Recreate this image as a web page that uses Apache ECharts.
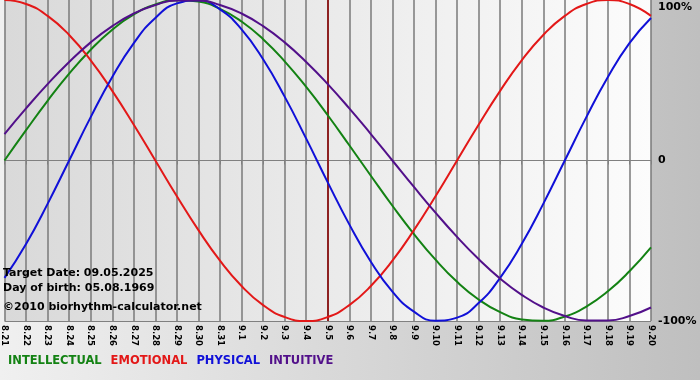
<!DOCTYPE html>
<html>
<head>
<meta charset="utf-8">
<script src="https://cdn.jsdelivr.net/npm/echarts@6/dist/echarts.min.js"></script>
<style>
html,body{margin:0;padding:0;}
#c{width:700px;height:380px;}
</style>
</head>
<body>
<div id="c"></div>
<script>
const days = ["8.21","8.22","8.23","8.24","8.25","8.26","8.27","8.28","8.29","8.30","8.31",
  "9.1","9.2","9.3","9.4","9.5","9.6","9.7","9.8","9.9","9.10","9.11","9.12","9.13","9.14",
  "9.15","9.16","9.17","9.18","9.19","9.20"];
const intellectual = [0,18.9,37.2,54.1,69.0,81.5,91.0,97.2,99.9,99.0,94.5,86.6,75.6,61.8,45.8,28.2,9.5,
  -9.5,-28.2,-45.8,-61.8,-75.6,-86.6,-94.5,-99.0,-99.9,-97.2,-91.0,-81.5,-69.0,-54.1];
const emotional = [100,97.5,90.1,78.2,62.4,43.4,22.3,0,-22.3,-43.4,-62.4,-78.2,-90.1,-97.5,-100,
  -97.5,-90.1,-78.2,-62.4,-43.4,-22.3,0,22.3,43.4,62.4,78.2,90.1,97.5,100,97.5,90.1];
const physical = [-73.1,-52.0,-27.0,0,27.0,52.0,73.1,88.8,97.9,99.8,94.2,81.7,63.1,39.8,13.6,
  -13.6,-39.8,-63.1,-81.7,-94.2,-99.8,-97.9,-88.8,-73.1,-52.0,-27.0,0,27.0,52.0,73.1,88.8];
const intuitive = [16.5,32.5,47.6,61.4,73.6,83.7,91.6,96.9,99.7,99.7,96.9,91.6,83.7,73.6,61.4,
  47.6,32.5,16.5,0,-16.5,-32.5,-47.6,-61.4,-73.6,-83.7,-91.6,-96.9,-99.7,-99.7,-96.9,-91.6];
const yTicks = {"100":"100%","0":"0","-100":"-100%"};
const targetDay = "9.5";
const infoLines = ["Target Date: 09.05.2025","Day of birth: 05.08.1969","\u00a92010 biorhythm-calculator.net"];

const chart = echarts.init(document.getElementById('c'), null, {renderer:'canvas'});
const FONT = '"DejaVu Sans", Verdana, sans-serif';
function ser(name, data, color){
  return {name:name, type:'line', data:data, smooth:0.5, symbol:'none',
    lineStyle:{color:color, width:2}, itemStyle:{color:color}, z:3};
}
const series = [
  ser('INTELLECTUAL', intellectual, '#138213'),
  ser('EMOTIONAL', emotional, '#e31818'),
  ser('PHYSICAL', physical, '#1010d8'),
  ser('INTUITIVE', intuitive, '#52108a')
];
series[0].markLine = {silent:true, symbol:'none', label:{show:false},
  lineStyle:{color:'#8e2222', width:2, type:'solid'}, data:[{xAxis: targetDay}], z:2};

chart.setOption({
  animation:false,
  backgroundColor:{type:'linear',x:0,y:0,x2:1,y2:0,colorStops:[{offset:0,color:'#f0f0f0'},{offset:1,color:'#bfbfbf'}]},
  grid:{left:2, right:49, top:0, bottom:59, show:true, borderWidth:0,
    backgroundColor:{type:'linear',x:0,y:0,x2:1,y2:0,colorStops:[{offset:0,color:'#d9d9d9'},{offset:1,color:'#fcfcfc'}]}},
  legend:{left:3, top:355, padding:0, itemWidth:0, itemHeight:0, itemGap:4, icon:'none', selectedMode:false,
    textStyle:{fontFamily:FONT, fontWeight:'bold', fontSize:11.5},
    data:[
      {name:'INTELLECTUAL', textStyle:{color:'#138213'}},
      {name:'EMOTIONAL', textStyle:{color:'#e31818'}},
      {name:'PHYSICAL', textStyle:{color:'#1010d8'}},
      {name:'INTUITIVE', textStyle:{color:'#52108a'}}
    ]},
  xAxis:{type:'category', data:days, boundaryGap:false,
    axisLine:{lineStyle:{color:'#808080', width:1}},
    axisTick:{show:true, length:4, interval:0, lineStyle:{color:'#808080'}},
    splitLine:{show:true, interval:0, lineStyle:{color:'#7a7a7a', width:1.5}},
    axisLabel:{interval:0, rotate:-90, margin:4, color:'#000', fontFamily:FONT, fontWeight:'bold', fontSize:8.5}},
  yAxis:{type:'value', position:'right', min:-100, max:100, interval:100,
    axisLine:{show:false}, axisTick:{show:false},
    splitLine:{show:true, lineStyle:{color:['#808080','#808080','rgba(0,0,0,0)'], width:1}},
    axisLabel:{margin:7, color:'#000', fontFamily:FONT, fontWeight:'bold', fontSize:11,
      verticalAlignMaxLabel:'top', padding:[2,0,0,0], formatter:function(v){return yTicks[String(v)];}}},
  graphic:[
    {type:'text', left:3, top:268, z:10, style:{text:infoLines[0], fill:'#000', font:'bold 11px '+FONT}},
    {type:'text', left:3, top:283, z:10, style:{text:infoLines[1], fill:'#000', font:'bold 11px '+FONT}},
    {type:'text', left:3, top:302, z:10, style:{text:infoLines[2], fill:'#000', font:'bold 11px '+FONT}}
  ],
  series:series
});
</script>
</body>
</html>
